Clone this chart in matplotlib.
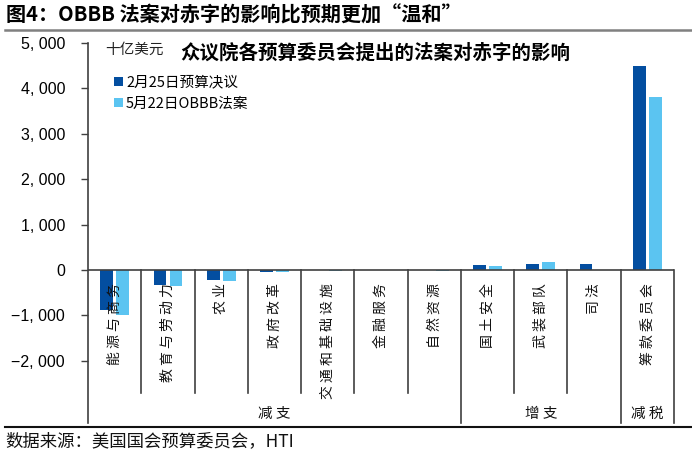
import matplotlib
matplotlib.use("Agg")
import matplotlib.pyplot as plt
import matplotlib.transforms as mtransforms
from matplotlib.lines import Line2D
import numpy as np

plt.rcParams['font.family'] = ['Noto Sans CJK SC', 'DejaVu Sans']

# data (十亿美元)
categories = ["能源与商务", "教育与劳动力", "农业", "政府改革", "交通和基础设施",
              "金融服务", "自然资源", "国土安全", "武装部队", "司法", "筹款委员会"]
budget_resolution = [-880, -330, -230, -50, -10, -10, -5, 110, 125, 130, 4500]
obbb_bill = [-990, -350, -240, -55, -30, -5, -20, 90, 170, 5, 3800]
groups = ["减支", "增支", "减税"]
group_spans = [(0, 6), (7, 9), (10, 10)]
series_names = ["2月25日预算决议", "5月22日OBBB法案"]
yticks = [-2000, -1000, 0, 1000, 2000, 3000, 4000, 5000]

dark = "#034EA0"
light = "#5BC4F1"

fig = plt.figure(figsize=(6.92, 4.53), dpi=100)
ax = fig.add_axes([88 / 692, 1 - 423 / 453, (674 - 88) / 692, (423 - 43) / 453])

x = np.arange(len(categories))
w = 0.24
b1 = ax.bar(x - 0.15, budget_resolution, w, color=dark, label=series_names[0], zorder=2)
b2 = ax.bar(x + 0.15, obbb_bill, w, color=light, label=series_names[1], zorder=2)

ax.set_xlim(-0.5, len(categories) - 0.5)
ax.set_ylim(-3370, 5000)
ax.set_yticks(yticks)
ax.set_yticklabels([f"{v:,}".replace(",", ", ").replace("-", "\u2212") for v in yticks],
                   fontfamily="Liberation Sans", fontsize=11.5)
ax.tick_params(axis="y", length=5, pad=11.5, color="#404040", width=1)
ax.set_xticks([])

for s in ["top", "right", "bottom"]:
    ax.spines[s].set_visible(False)
ax.spines["left"].set_color("#404040")
ax.spines["left"].set_linewidth(1.2)

ax.axhline(0, color="#404040", lw=1.2, zorder=3)

# category / group separator lines below the zero line
trans = mtransforms.blended_transform_factory(ax.transData, ax.transAxes)
zero_frac = (423 - 270) / 380
group_edges = [s[1] + 0.5 for s in group_spans]
for k in range(len(categories)):
    xe = k + 0.5
    if xe in group_edges:
        ax.plot([xe, xe], [0, zero_frac], transform=trans, color="#404040", lw=1.2, clip_on=False)
    else:
        ax.plot([xe, xe], [30 / 380, zero_frac], transform=trans, color="#404040", lw=1.2, clip_on=False)

for xi, name in zip(x, categories):
    ax.text(xi, -290, " ".join(name), rotation=90, ha="center", va="top", fontsize=10, color="#111111")

for g, (a, b) in zip(groups, group_spans):
    ax.text((a + b) / 2, 9 / 380, " ".join(g), transform=trans, ha="center", va="center",
            fontsize=10.5, color="#111111")

ax.text(17 / 586, 1 - 7 / 380, "十亿美元", transform=ax.transAxes, ha="left", va="center",
        fontsize=10.5, color="#222222")
ax.text(92 / 586, 1 - 10 / 380, "众议院各预算委员会提出的法案对赤字的影响", transform=ax.transAxes,
        ha="left", va="center", fontsize=14, fontweight="bold")

ax.legend(handles=[b1, b2], loc="upper left", bbox_to_anchor=(0.035, 0.93), frameon=False,
          fontsize=10.5, handlelength=0.6, handleheight=0.6, handletextpad=0.2,
          labelspacing=0.5, borderaxespad=0)

fig.text(6 / 692, 1 - 15 / 453, "图4：OBBB 法案对赤字的影响比预期更加“温和”", ha="left", va="center",
         fontsize=14.5, fontweight="bold")
fig.add_artist(Line2D([5 / 692, 1], [1 - 30 / 453, 1 - 30 / 453], color="#808080", lw=1.8))
fig.add_artist(Line2D([5 / 692, 1], [1 - 427 / 453, 1 - 427 / 453], color="#111111", lw=1.5))
fig.text(5 / 692, 1 - 441 / 453, "数据来源：美国国会预算委员会，HTI", ha="left", va="center",
         fontsize=12.5, color="#111111")

fig.savefig("out.png", dpi=100)
